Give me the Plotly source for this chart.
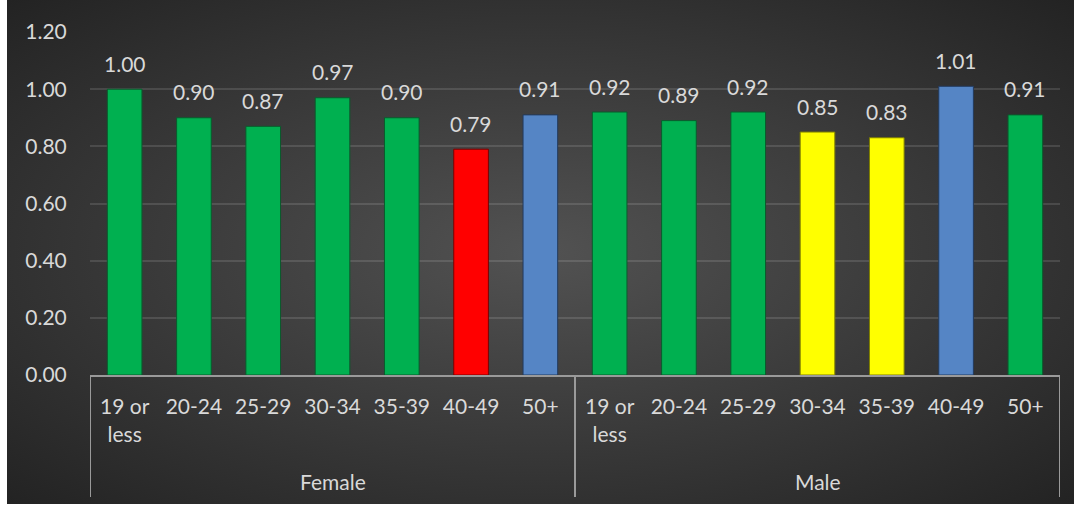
import base64
import plotly.graph_objects as go

groups = ["Female", "Male"]
ages = ["19 or<br>less", "20-24", "25-29", "30-34", "35-39", "40-49", "50+"]
female = [1.00, 0.90, 0.87, 0.97, 0.90, 0.79, 0.91]
male = [0.92, 0.89, 0.92, 0.85, 0.83, 1.01, 0.91]
female_colors = ["#00B050"] * 5 + ["#FF0000", "#5585C5"]
male_colors = ["#00B050"] * 3 + ["#FFFF00", "#FFFF00", "#5585C5", "#00B050"]

values = female + male
colors = female_colors + male_colors
xpos = list(range(len(values)))
ticktext = ages + ages
edge = {"#00B050": "#0A5A2C", "#FF0000": "#7A0000",
        "#5585C5": "#233B5E", "#FFFF00": "#7F7F00"}

W, H = 1067, 504
ML, MR, MT, MB = 83, 14, 32, 129
pw, ph = W - ML - MR, H - MT - MB

svg = f'''<svg xmlns="http://www.w3.org/2000/svg" width="{W}" height="{H}" preserveAspectRatio="none">
<defs><radialGradient id="g" cx="50%" cy="50%" r="72%">
<stop offset="0%" stop-color="#525252"/><stop offset="100%" stop-color="#222222"/>
</radialGradient></defs><rect width="{W}" height="{H}" fill="url(#g)"/></svg>'''
src = "data:image/svg+xml;base64," + base64.b64encode(svg.encode()).decode()

FONT = "Lato"
FS = 21
TXT = "#D9D9D9"

fig = go.Figure(go.Bar(
    x=xpos, y=values,
    marker=dict(color=colors, line=dict(color=[edge[c] for c in colors], width=1)),
    hoverinfo="x+y",
))

n = len(female)
line_style = dict(color="#9A9A9A", width=2)
y_bottom = -122 / ph
shapes = []
for xb in [-0.5, n - 0.5, 2 * n - 0.5]:
    shapes.append(dict(type="line", xref="x", yref="paper", x0=xb, x1=xb,
                       y0=0, y1=y_bottom, line=line_style, layer="above"))

annotations = []
for xi, v in zip(xpos, values):
    annotations.append(dict(text=f"{v:.2f}", xref="x", yref="y", x=xi, y=v,
                            yshift=26, showarrow=False, yanchor="middle",
                            xanchor="center",
                            font=dict(family=FONT, size=FS, color=TXT)))
for i, g in enumerate(groups):
    annotations.append(dict(text=g, xref="x", yref="paper",
                            x=i * n + (n - 1) / 2, y=-106 / ph,
                            showarrow=False, yanchor="middle", xanchor="center",
                            font=dict(family=FONT, size=FS, color=TXT)))

fig.update_layout(
    width=W, height=H,
    margin=dict(l=ML, r=MR, t=MT, b=MB),
    paper_bgcolor="#333333", plot_bgcolor="rgba(0,0,0,0)",
    font=dict(family=FONT, color=TXT, size=FS),
    bargap=0.5, showlegend=False,
    images=[dict(source=src, xref="paper", yref="paper",
                 x=-ML / pw, y=1 + MT / ph, sizex=W / pw, sizey=H / ph,
                 xanchor="left", yanchor="top", sizing="stretch", layer="below")],
    yaxis=dict(range=[0, 1.2], dtick=0.2, tickformat=".2f",
               gridcolor="rgba(255,255,255,0.12)", gridwidth=1.5, zeroline=False,
               ticks="outside", ticklen=18, tickcolor="rgba(0,0,0,0)",
               tickfont=dict(size=FS, color=TXT, family=FONT)),
    xaxis=dict(range=[-0.5, 2 * n - 0.5], tickmode="array",
               tickvals=xpos, ticktext=ticktext,
               showline=True, linecolor="#9A9A9A", linewidth=2,
               showgrid=False, zeroline=False,
               ticks="outside", ticklen=12, tickcolor="rgba(0,0,0,0)",
               tickfont=dict(size=FS, color=TXT, family=FONT)),
    shapes=shapes, annotations=annotations,
)

fig.write_html("out.html", post_script="document.body.style.margin='0 0 0 7px';")
